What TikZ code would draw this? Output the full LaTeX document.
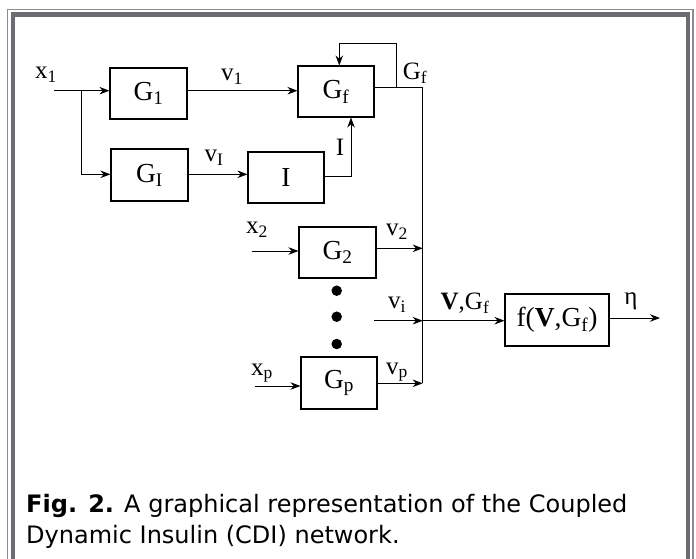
\documentclass[tikz,border=0pt]{standalone}
\usepackage{fontspec}
\setmainfont{Liberation Serif}
\newfontfamily\capfont{DejaVu Sans}
\usetikzlibrary{arrows.meta,calc}
\definecolor{framethick}{RGB}{108,108,114}
\definecolor{framethin}{RGB}{140,140,146}
\begin{document}
\begin{tikzpicture}[x=1pt,y=-1pt,
  blk/.style={draw,line width=1.1pt,inner sep=0pt,font=\fontsize{27.5}{29}\selectfont},
  ln/.style={line width=0.9pt},
  arr/.style={ln,-{Stealth[length=10pt,width=7.5pt]}},
  lab/.style={inner sep=0pt,font=\fontsize{25}{27}\selectfont},
  dot/.style={circle,fill=black,inner sep=0pt,minimum size=10.5pt},
  capt/.style={anchor=base west,inner sep=0pt,font=\capfont\fontsize{24}{30}\selectfont}]
\useasboundingbox (0,0) rectangle (696,558);
% frame
\draw[line width=1.5pt,color=framethin] (7.5,562) -- (7.5,9.5) -- (693,9.5) -- (693,562);
\draw[line width=4.8pt,color=framethick] (13,562) -- (13,14.8) -- (688,14.8) -- (688,562);
% blocks
\node[blk,minimum width=77pt,minimum height=51pt] (G1) at (148.5,93.5) {G\textsubscript{1}};
\node[blk,minimum width=77pt,minimum height=52pt] (GI) at (149.5,175) {G\textsubscript{I}};
\node[blk,minimum width=76pt,minimum height=51pt] (I) at (286,177.5) {I};
\node[blk,minimum width=76pt,minimum height=51pt] (Gf) at (336,91.5) {G\textsubscript{f}};
\node[blk,minimum width=77pt,minimum height=51pt] (G2) at (337.5,252.5) {G\textsubscript{2}};
\node[blk,minimum width=76pt,minimum height=52pt] (Gp) at (339,383) {G\textsubscript{p}};
\node[blk,minimum width=104pt,minimum height=52pt] (F) at (557,320) {f(\textbf{V},G\textsubscript{f})};
% dots
\node[dot] (d1) at (336.7,290.7) {};
\node[dot] (d2) at (336.7,316.7) {};
\node[dot] (d3) at (336.7,344) {};
% coordinates
\coordinate (x1in) at (54,90.7);
\coordinate (br) at (81.7,90.7);
\coordinate (brd) at (81.7,174.3);
\coordinate (ic) at (351,176.7);
\coordinate (gfo) at (422.7,87.3);
\coordinate (fb) at (396.7,87.3);
\coordinate (fbt) at (396.7,43.3);
\coordinate (fbl) at (339.3,43.3);
\coordinate (x2in) at (251.7,251);
\coordinate (b2) at (422.7,248.3);
\coordinate (viin) at (374.3,320.7);
\coordinate (bi) at (422.7,320.7);
\coordinate (xpin) at (255,386);
\coordinate (bp) at (422.7,383.3);
\coordinate (eta) at (660,318);
% connectors
\draw[arr] (x1in) -- (G1.west |- x1in);
\draw[arr] (br) -- (brd) -- (GI.west |- brd);
\draw[arr] (G1.east |- x1in) -- (Gf.west |- x1in);
\draw[arr] (GI.east |- brd) -- (I.west |- brd);
\draw[arr] (I.east |- ic) -- (ic) -- (ic |- Gf.south);
\draw[ln] (Gf.east |- gfo) -- (gfo) -- (bp);
\draw[arr] (fb) -- (fbt) -- (fbl) -- (fbl |- Gf.north);
\draw[arr] (x2in) -- (G2.west |- x2in);
\draw[arr] (G2.east |- b2) -- (b2);
\draw[arr] (viin) -- (bi);
\draw[arr] (xpin) -- (Gp.west |- xpin);
\draw[arr] (Gp.east |- bp) -- (bp);
\draw[arr] (bi) -- (F.west |- bi);
\draw[arr] (F.east |- eta) -- (eta);
% labels
\node[lab] (lx1) at (46,75) {x\textsubscript{1}};
\node[lab] (lv1) at (232,77) {v\textsubscript{1}};
\node[lab] (lgf) at (415,73) {G\textsubscript{f}};
\node[lab] (lvI) at (214,158) {v\textsubscript{I}};
\node[lab] (lI) at (340,147) {I};
\node[lab] (lx2) at (257,230) {x\textsubscript{2}};
\node[lab] (lv2) at (397,232) {v\textsubscript{2}};
\node[lab] (lvi) at (397,305) {v\textsubscript{i}};
\node[lab] (lVG) at (465,303) {\textbf{V},G\textsubscript{f}};
\node[lab] (lxp) at (262,373) {x\textsubscript{p}};
\node[lab] (lvp) at (397,372) {v\textsubscript{p}};
\node[lab] (leta) at (631,301) {η};
% caption
\node[capt] (cap1) at (26,512) {\textbf{Fig. 2.} A graphical representation of the Coupled};
\node[capt] (cap2) at (26,543) {Dynamic Insulin (CDI) network.};
\end{tikzpicture}
\end{document}
